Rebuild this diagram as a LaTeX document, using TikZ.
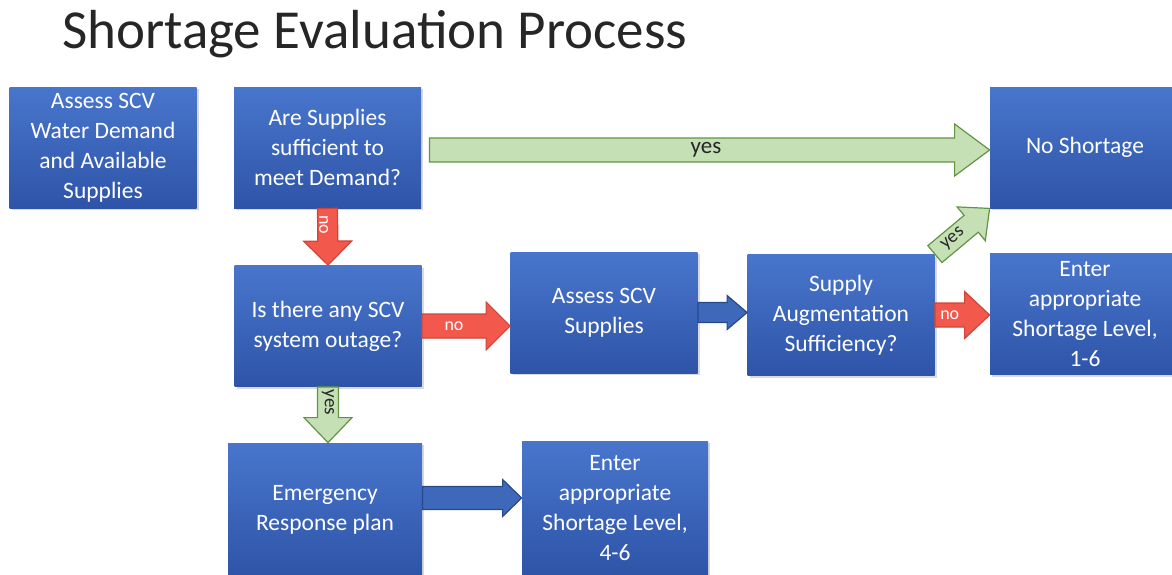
\documentclass[tikz,border=0pt]{standalone}
\usepackage{fontspec}
\setmainfont{Carlito}
\usetikzlibrary{calc,shadows}

\definecolor{boxtop}{RGB}{72,118,204}
\definecolor{boxbot}{RGB}{46,84,168}
\definecolor{grfill}{RGB}{197,224,180}
\definecolor{grline}{RGB}{98,148,66}
\definecolor{rdfill}{RGB}{242,88,76}
\definecolor{rdline}{RGB}{205,70,58}
\definecolor{blfill}{RGB}{62,104,186}
\definecolor{blline}{RGB}{40,72,140}

\def\shw{5pt}\def\hdw{12pt}\def\hdl{12pt}
\tikzset{
  box/.style={rectangle, top color=boxtop, bottom color=boxbot, text=white,
    align=center, inner sep=0pt, minimum width=93.5pt, minimum height=60.5pt,
    font=\fontsize{11.75}{15}\selectfont,
    drop shadow={opacity=0.3, shadow xshift=1pt, shadow yshift=-1pt}},
  arrsize/.code n args={3}{\def\shw{#1}\def\hdw{#2}\def\hdl{#3}},
  greenarr/.style={arrbody/.style={fill=grfill, draw=grline, line width=0.6pt},
    arrtext/.style={text=black!85, font=\fontsize{9.5}{12}\selectfont}},
  redarr/.style={arrbody/.style={fill=rdfill, draw=rdline, line width=0.6pt},
    arrtext/.style={text=white, font=\fontsize{9}{12}\selectfont}},
  bluearr/.style={arrbody/.style={fill=blfill, draw=blline, line width=0.6pt},
    arrtext/.style={}},
}

% block arrow from #2 to #3, label #4 with options #5
\newcommand{\blockarr}[5][]{%
  \begin{scope}[#1]
    \coordinate (hb) at ($(#3)!\hdl!(#2)$);
    \draw[arrbody] ($(#2)!\shw!90:(#3)$) -- ($(hb)!\shw!90:(#3)$)
      -- ($(hb)!\hdw!90:(#3)$) -- (#3) -- ($(hb)!\hdw!-90:(#3)$)
      -- ($(hb)!\shw!-90:(#3)$) -- ($(#2)!\shw!-90:(#3)$) -- cycle;
    \node[arrtext, #5] at ($(#2)!0.5!(hb)$) {#4};
  \end{scope}}

\begin{document}
\begin{tikzpicture}[x=0.5pt, y=-0.5pt]
\useasboundingbox (0,0) rectangle (1172,574);

\node[anchor=base west, font=\fontsize{27.5}{30}\selectfont, text=black!85] (title) at (55,48) {Shortage Evaluation Process};

% boxes
\node[box] (assess) at (103,147.5) {Assess SCV\\Water Demand\\and Available\\Supplies};
\node[box] (enough) at (327.5,147.5) {Are Supplies\\sufficient to\\meet Demand?};
\node[box, minimum width=95pt] (noshort) at (1085,147.5) {No Shortage};
\node[box] (outage) at (328,326) {Is there any SCV\\system outage?};
\node[box] (scvsup) at (604,312.5) {Assess SCV\\Supplies};
\node[box] (augment) at (841,315) {Supply\\Augmentation\\Sufficiency?};
\node[box, minimum width=95pt] (level16) at (1085,314) {Enter\\appropriate\\Shortage Level,\\1-6};
\node[box, minimum width=97pt, minimum height=67pt] (emerg) at (325,510) {Emergency\\Response plan};
\node[box, minimum width=93pt, minimum height=67pt] (level46) at (615,508) {Enter\\appropriate\\Shortage Level,\\4-6};

% arrows
\coordinate (s1) at ([xshift=4pt, yshift=-1.25pt]enough.east);
\coordinate (t1) at (s1 -| noshort.west);
\blockarr[greenarr, arrsize={6pt}{13pt}{17.5pt}, arrtext/.append style={font=\fontsize{11.5}{12}\selectfont}]{s1}{t1}{yes}{xshift=7pt}
\blockarr[redarr, arrsize={5pt}{12pt}{12pt}]{enough.south}{outage.north}{no}{rotate=-90, yshift=-2pt}
\coordinate (t3) at (outage.east -| scvsup.west);
\blockarr[redarr, arrsize={6pt}{12pt}{12pt}]{outage.east}{t3}{no}{}
\coordinate (t4) at (scvsup.east -| augment.west);
\blockarr[bluearr, arrsize={5pt}{8.5pt}{10pt}]{scvsup.east}{t4}{}{}
\coordinate (t5) at (augment.east -| level16.west);
\blockarr[redarr, arrsize={6pt}{11.75pt}{12.5pt}]{augment.east}{t5}{no}{}
\blockarr[greenarr, arrsize={5.5pt}{11pt}{12pt}]{augment.north east}{noshort.south west}{yes}{rotate=40, inner sep=1pt}
\coordinate (t7) at (outage.south |- emerg.north);
\blockarr[greenarr, arrsize={5.25pt}{12pt}{12.5pt}]{outage.south}{t7}{yes}{rotate=-90}
\coordinate (s8) at ([yshift=6pt]emerg.east);
\coordinate (t8) at (s8 -| level46.west);
\blockarr[bluearr, arrsize={5.75pt}{9.25pt}{9.5pt}]{s8}{t8}{}{}
\end{tikzpicture}
\end{document}
